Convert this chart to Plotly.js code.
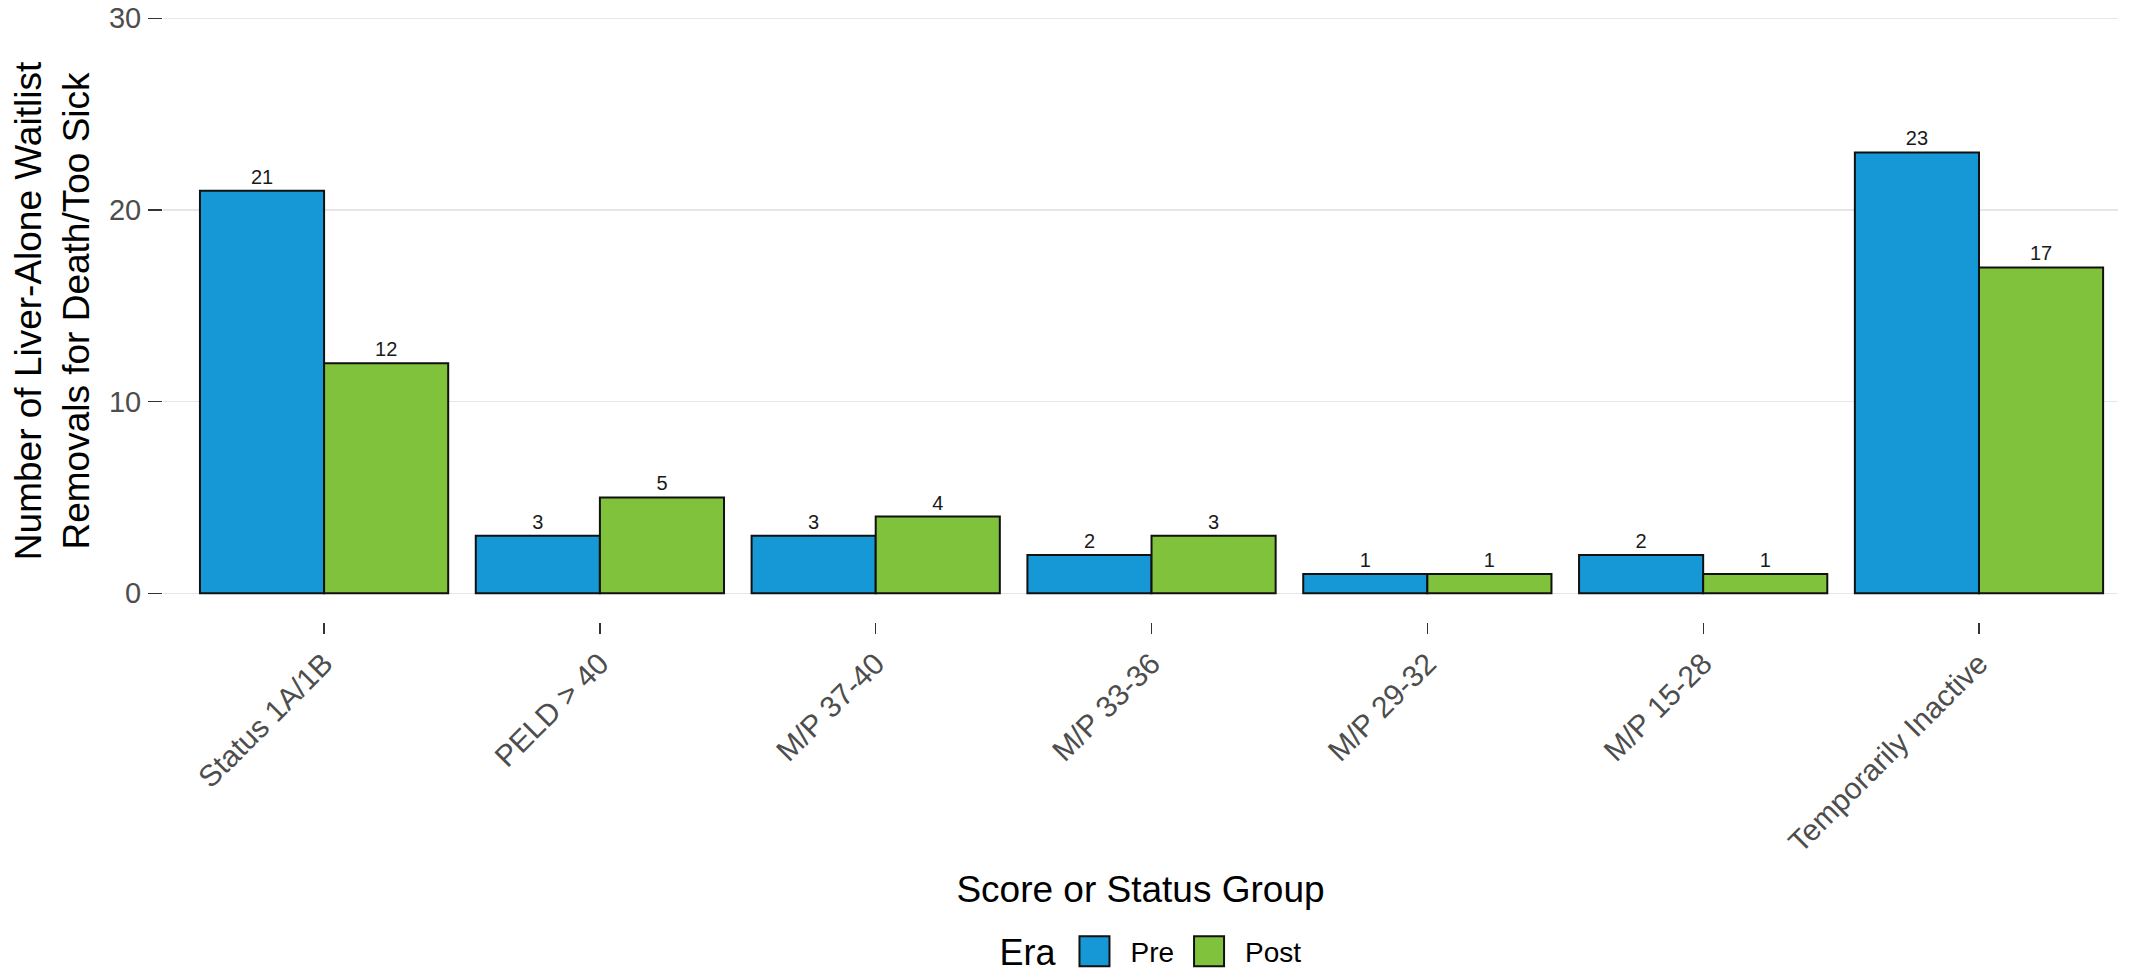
<!DOCTYPE html>
<html>
<head>
<meta charset="utf-8">
<script src="https://cdn.plot.ly/plotly-3.0.1.min.js"></script>
<style>
  html, body { margin: 0; padding: 0; background: #ffffff; }
  #chart { width: 2146px; height: 978px; }
</style>
</head>
<body>
<div id="chart"></div>
<script>
// ---- data ----
const categories = ['Status 1A/1B', 'PELD > 40', 'M/P 37-40', 'M/P 33-36', 'M/P 29-32', 'M/P 15-28', 'Temporarily Inactive'];
const preValues  = [21, 3, 3, 2, 1, 2, 23];
const postValues = [12, 5, 4, 3, 1, 1, 17];
const seriesNames = ['Pre', 'Post'];
const yTickValues = [0, 10, 20, 30];
const yTickLabels = ['0', '10', '20', '30'];

// ---- styles ----
const FONT = 'Liberation Sans, Arial, Helvetica, sans-serif';
const preColor = '#1598D5';
const postColor = '#80C23C';

function barTrace(name, values, color) {
  return {
    type: 'bar',
    name: name,
    x: categories,
    y: values,
    text: values.map(String),
    textposition: 'outside',
    cliponaxis: false,
    textfont: { family: FONT, size: 20, color: '#1a1a1a' },
    outsidetextfont: { family: FONT, size: 20, color: '#1a1a1a' },
    marker: { color: color, line: { color: '#111111', width: 2 } },
    hoverinfo: 'x+y+name'
  };
}

const data = [
  barTrace(seriesNames[0], preValues, preColor),
  barTrace(seriesNames[1], postValues, postColor)
];

const layout = {
  width: 2146,
  height: 978,
  margin: { l: 163, r: 28, t: 0, b: 356, pad: 0 },
  paper_bgcolor: '#ffffff',
  plot_bgcolor: '#ffffff',
  font: { family: FONT, color: '#000000' },
  barmode: 'group',
  bargap: 0.1,
  bargroupgap: 0,
  showlegend: true,
  xaxis: {
    type: 'category',
    range: [-0.584, 6.504],
    tickangle: -45,
    ticks: 'outside',
    ticklen: 11,
    tickwidth: 1.2,
    tickcolor: '#333333',
    tickfont: { family: FONT, size: 30, color: '#4d4d4d' },
    showgrid: false,
    showline: false,
    zeroline: false,
    automargin: false,
    title: { text: 'Score or Status Group', font: { family: FONT, size: 37, color: '#000000' }, standoff: 18 }
  },
  yaxis: {
    range: [-1.5, 30.955],
    tickmode: 'array',
    tickvals: yTickValues,
    ticktext: yTickLabels,
    ticks: 'outside',
    ticklen: 14,
    tickwidth: 1.2,
    tickcolor: '#333333',
    ticklabelstandoff: 1,
    tickfont: { family: FONT, size: 29, color: '#4d4d4d' },
    showgrid: true,
    gridcolor: '#e6e6e6',
    gridwidth: 1.5,
    showline: false,
    zeroline: false,
    automargin: false,
    title: {
      text: 'Number of Liver-Alone Waitlist<br>Removals for Death/Too Sick',
      font: { family: FONT, size: 37, color: '#000000' },
      standoff: 7
    }
  },
  legend: {
    orientation: 'h',
    xref: 'container',
    yref: 'container',
    x: 0.5368,
    xanchor: 'center',
    y: 0.0235,
    yanchor: 'middle',
    font: { family: FONT, size: 28, color: '#000000' },
    title: { text: 'Era', side: 'left', font: { family: FONT, size: 36, color: '#000000' } },
    itemwidth: 56,
    bgcolor: 'rgba(0,0,0,0)'
  }
};

Plotly.newPlot('chart', data, layout, { staticPlot: true, displayModeBar: false }).then(function () {
  // enlarge legend swatches to match the reference key size
  document.querySelectorAll('#chart .legend .legendpoints path').forEach(function (p) {
    p.setAttribute('d', 'M12,15H-18V-15H12Z');
  });
  // align the legend title with the key labels as in the reference
  document.querySelectorAll('#chart .legend .legendtitletext').forEach(function (t) {
    t.setAttribute('transform', 'translate(0,-8)');
  });
});
</script>
</body>
</html>
